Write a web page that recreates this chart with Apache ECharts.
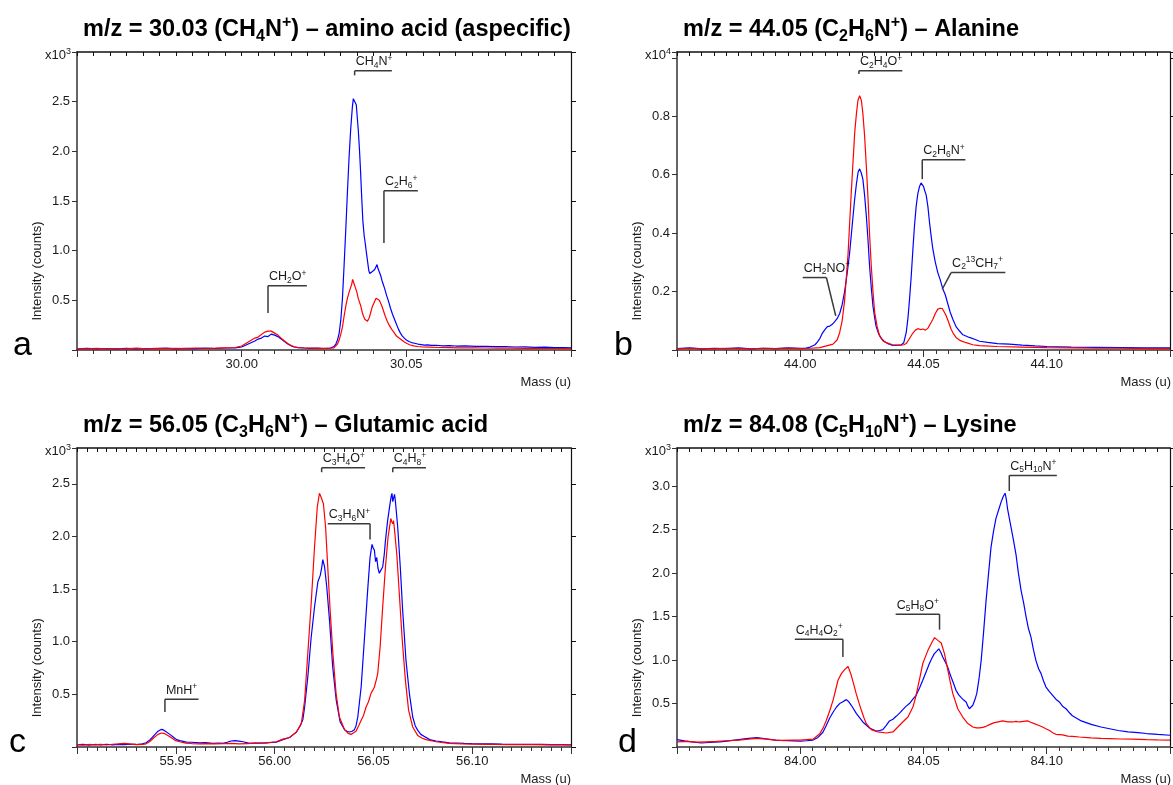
<!DOCTYPE html>
<html><head><meta charset="utf-8">
<script src="https://cdn.jsdelivr.net/npm/echarts@6/dist/echarts.min.js"></script>
<style>html,body{margin:0;padding:0;background:#fff}#c{width:1173px;height:785px}</style>
</head><body><div id="c"></div>
<script>
// ---------------- DATA ----------------
const xLabelsA = [30.00, 30.05];
const yLabelsA = [0.5, 1.0, 1.5, 2.0, 2.5];
const xLabelsB = [44.00, 44.05, 44.10];
const yLabelsB = [0.2, 0.4, 0.6, 0.8];
const xLabelsC = [55.95, 56.00, 56.05, 56.10];
const yLabelsC = [0.5, 1.0, 1.5, 2.0, 2.5];
const xLabelsD = [84.00, 84.05, 84.10];
const yLabelsD = [0.5, 1.0, 1.5, 2.0, 2.5, 3.0];

const aBlue = [[29.950,0.012],[29.953,0.016],[29.956,0.011],[29.959,0.015],[29.962,0.012],[29.965,0.017],[29.968,0.011],[29.971,0.015],[29.974,0.013],[29.977,0.018],[29.980,0.012],[29.983,0.016],[29.986,0.014],[29.989,0.019],[29.992,0.015],[29.995,0.02],[29.998,0.022],
[30.000,0.03],[30.001,0.045],[30.002,0.06],[30.003,0.075],[30.004,0.09],[30.005,0.11],[30.006,0.12],[30.007,0.14],[30.0075,0.125],[30.008,0.135],[30.0085,0.155],[30.009,0.16],[30.0095,0.145],[30.010,0.15],[30.011,0.135],[30.012,0.11],[30.013,0.085],[30.014,0.06],[30.015,0.042],[30.016,0.03],[30.017,0.024],[30.019,0.02],[30.021,0.017],[30.023,0.018],[30.025,0.015],[30.027,0.02],[30.028,0.035],
[30.0286,0.06],[30.0291,0.1],[30.0296,0.17],[30.0301,0.3],[30.0306,0.52],[30.0311,0.85],[30.0316,1.2],[30.0321,1.58],[30.0326,1.93],[30.0331,2.22],[30.0336,2.44],[30.0339,2.53],[30.0342,2.55],[30.0345,2.54],[30.0348,2.47],[30.0351,2.34],[30.0354,2.22],[30.0358,2.0],[30.0361,1.8],[30.0365,1.5],[30.0368,1.3],[30.0372,1.15],[30.0375,1.08],[30.0378,1.0],[30.0382,0.9],[30.0386,0.8],[30.0389,0.77],[30.0393,0.76],[30.0397,0.79],[30.0400,0.78],[30.0404,0.81],[30.0408,0.83],[30.0411,0.86],[30.0414,0.82],[30.0418,0.8],[30.0422,0.75],[30.0426,0.7],[30.0430,0.66],[30.0434,0.62],[30.0440,0.55],[30.0446,0.49],[30.0452,0.42],[30.0458,0.36],[30.0464,0.31],[30.0470,0.26],[30.0476,0.21],[30.0482,0.17],[30.0488,0.14],[30.0494,0.12],[30.0500,0.1],[30.0508,0.085],[30.0516,0.075],[30.0525,0.068],[30.0535,0.06],[30.0545,0.055],[30.0555,0.05],[30.0565,0.052],[30.0575,0.046],[30.059,0.048],[30.061,0.042],[30.063,0.045],[30.065,0.04],[30.068,0.041],[30.071,0.036],[30.074,0.037],[30.077,0.033],[30.080,0.034],[30.083,0.03],[30.086,0.031],[30.089,0.027],[30.092,0.028],[30.095,0.025],[30.098,0.024],[30.100,0.022]];

const aRed = [[29.950,0.014],[29.953,0.012],[29.956,0.017],[29.959,0.011],[29.962,0.015],[29.965,0.012],[29.968,0.018],[29.971,0.012],[29.974,0.016],[29.977,0.013],[29.980,0.017],[29.983,0.014],[29.986,0.02],[29.989,0.015],[29.992,0.018],[29.995,0.022],[29.998,0.025],
[30.000,0.04],[30.001,0.06],[30.002,0.08],[30.003,0.1],[30.004,0.12],[30.005,0.13],[30.006,0.155],[30.007,0.18],[30.0075,0.2],[30.008,0.19],[30.0085,0.175],[30.009,0.19],[30.0095,0.18],[30.010,0.17],[30.011,0.15],[30.012,0.12],[30.013,0.09],[30.014,0.065],[30.015,0.045],[30.016,0.032],[30.017,0.025],[30.019,0.02],[30.021,0.018],[30.023,0.016],[30.025,0.017],[30.027,0.018],[30.028,0.022],
[30.0286,0.03],[30.0291,0.06],[30.0296,0.1],[30.0301,0.16],[30.0306,0.23],[30.0311,0.34],[30.0316,0.44],[30.0321,0.52],[30.0326,0.58],[30.0331,0.63],[30.0334,0.66],[30.0337,0.71],[30.0340,0.68],[30.0343,0.66],[30.0346,0.62],[30.0350,0.58],[30.0354,0.52],[30.0358,0.48],[30.0362,0.44],[30.0366,0.38],[30.0370,0.34],[30.0374,0.31],[30.0378,0.3],[30.0382,0.29],[30.0385,0.3],[30.0388,0.33],[30.0392,0.38],[30.0396,0.43],[30.0400,0.46],[30.0404,0.49],[30.0408,0.52],[30.0411,0.53],[30.0414,0.51],[30.0418,0.5],[30.0422,0.48],[30.0426,0.44],[30.0430,0.4],[30.0436,0.34],[30.0442,0.29],[30.0448,0.25],[30.0455,0.21],[30.0462,0.18],[30.0470,0.14],[30.0478,0.12],[30.0486,0.1],[30.0494,0.08],[30.0502,0.065],[30.0512,0.05],[30.0522,0.042],[30.0535,0.035],[30.055,0.03],[30.057,0.028],[30.060,0.025],[30.063,0.024],[30.066,0.022],[30.070,0.021],[30.074,0.02],[30.078,0.019],[30.082,0.018],[30.086,0.017],[30.090,0.016],[30.095,0.015],[30.100,0.014]];

const bBlue = [[43.950,0.005],[43.955,0.007],[43.960,0.004],[43.965,0.006],[43.970,0.005],[43.975,0.007],[43.980,0.004],[43.985,0.006],[43.990,0.005],[43.995,0.007],[44.000,0.006],[44.002,0.006],[44.004,0.01],[44.006,0.018],[44.007,0.028],[44.008,0.04],[44.009,0.058],[44.010,0.07],[44.011,0.08],[44.012,0.082],[44.013,0.088],[44.014,0.097],[44.015,0.108],[44.016,0.125],[44.017,0.155],[44.018,0.2],[44.019,0.26],[44.020,0.33],[44.021,0.42],[44.022,0.51],[44.0228,0.57],[44.0235,0.61],[44.0241,0.62],[44.0248,0.605],[44.0254,0.585],[44.0261,0.53],[44.0268,0.46],[44.0275,0.375],[44.0281,0.29],[44.0288,0.215],[44.0295,0.15],[44.0302,0.11],[44.0308,0.08],[44.0318,0.055],[44.0329,0.04],[44.034,0.03],[44.0355,0.022],[44.037,0.017],[44.039,0.016],[44.041,0.018],[44.042,0.025],[44.043,0.06],[44.0437,0.11],[44.0443,0.17],[44.045,0.25],[44.0457,0.345],[44.0463,0.42],[44.047,0.49],[44.0477,0.535],[44.0484,0.56],[44.049,0.572],[44.0495,0.575],[44.050,0.56],[44.0505,0.545],[44.0511,0.53],[44.0518,0.49],[44.0524,0.44],[44.0531,0.39],[44.0538,0.345],[44.0548,0.3],[44.0558,0.265],[44.0568,0.24],[44.0578,0.21],[44.0588,0.19],[44.0598,0.16],[44.0608,0.13],[44.0619,0.105],[44.0632,0.08],[44.0646,0.065],[44.066,0.052],[44.0686,0.043],[44.071,0.036],[44.0727,0.03],[44.076,0.026],[44.08,0.022],[44.0848,0.02],[44.09,0.017],[44.0953,0.014],[44.10,0.012],[44.11,0.01],[44.12,0.009],[44.13,0.008],[44.14,0.007],[44.15,0.007]];

const bRed = [[43.950,0.004],[43.955,0.006],[43.960,0.005],[43.965,0.004],[43.970,0.006],[43.975,0.005],[43.980,0.004],[43.985,0.006],[43.990,0.005],[43.995,0.006],[44.000,0.005],[44.004,0.006],[44.008,0.008],[44.0106,0.014],[44.0133,0.02],[44.015,0.035],[44.016,0.06],[44.017,0.1],[44.018,0.17],[44.0194,0.33],[44.0207,0.54],[44.0221,0.745],[44.0228,0.81],[44.0234,0.854],[44.0241,0.87],[44.0248,0.854],[44.0254,0.81],[44.0261,0.734],[44.0268,0.63],[44.0275,0.517],[44.0281,0.4],[44.0288,0.29],[44.0295,0.2],[44.0302,0.128],[44.0312,0.08],[44.0322,0.048],[44.0335,0.032],[44.0349,0.025],[44.0375,0.018],[44.0403,0.016],[44.042,0.018],[44.043,0.022],[44.044,0.035],[44.0457,0.058],[44.0467,0.068],[44.0477,0.073],[44.0488,0.07],[44.0498,0.072],[44.0508,0.068],[44.0518,0.075],[44.0528,0.09],[44.0538,0.105],[44.0548,0.125],[44.0558,0.14],[44.0567,0.143],[44.0576,0.142],[44.0584,0.13],[44.0592,0.117],[44.0602,0.095],[44.0612,0.071],[44.0622,0.055],[44.0632,0.043],[44.065,0.032],[44.0673,0.025],[44.07,0.018],[44.0727,0.015],[44.08,0.012],[44.09,0.01],[44.10,0.008],[44.11,0.007],[44.12,0.006],[44.13,0.006],[44.14,0.005],[44.15,0.005]];

const cBlue = [[55.900,0.02],[55.903,0.025],[55.906,0.018],[55.909,0.024],[55.912,0.02],[55.915,0.026],[55.918,0.021],[55.921,0.025],[55.924,0.022],[55.927,0.027],[55.930,0.024],[55.933,0.03],[55.935,0.04],[55.937,0.07],[55.939,0.11],[55.941,0.15],[55.9428,0.168],[55.944,0.16],[55.945,0.165],[55.947,0.12],[55.949,0.09],[55.9504,0.07],[55.952,0.06],[55.9554,0.047],[55.958,0.045],[55.9621,0.04],[55.965,0.042],[55.9688,0.035],[55.972,0.038],[55.9739,0.035],[55.976,0.045],[55.978,0.057],[55.980,0.06],[55.982,0.055],[55.984,0.05],[55.9874,0.035],[55.990,0.037],[55.993,0.036],[55.9958,0.04],[55.9985,0.043],[56.0009,0.046],[56.0042,0.07],[56.0076,0.09],[56.0092,0.115],[56.011,0.14],[56.0126,0.19],[56.0143,0.26],[56.0152,0.38],[56.0168,0.665],[56.0185,1.04],[56.0202,1.33],[56.0219,1.57],[56.0231,1.63],[56.0238,1.7],[56.0244,1.78],[56.0253,1.71],[56.0264,1.52],[56.0278,1.2],[56.0294,0.76],[56.0312,0.443],[56.0332,0.237],[56.0354,0.165],[56.0366,0.15],[56.0379,0.142],[56.0392,0.15],[56.0404,0.165],[56.0412,0.2],[56.0421,0.285],[56.0438,0.57],[56.0455,1.04],[56.0471,1.49],[56.0483,1.8],[56.0493,1.925],[56.0499,1.89],[56.0505,1.87],[56.0511,1.76],[56.0517,1.8],[56.0523,1.7],[56.053,1.65],[56.0538,1.68],[56.0547,1.71],[56.0555,1.83],[56.0561,1.96],[56.0572,2.15],[56.0584,2.31],[56.059,2.38],[56.0594,2.41],[56.0598,2.33],[56.0603,2.37],[56.0607,2.4],[56.0611,2.34],[56.0623,2.09],[56.0636,1.71],[56.0648,1.3],[56.0665,0.82],[56.0682,0.51],[56.0699,0.285],[56.0712,0.2],[56.0724,0.16],[56.0740,0.12],[56.0758,0.1],[56.0785,0.07],[56.0817,0.057],[56.085,0.048],[56.0884,0.04],[56.092,0.038],[56.096,0.034],[56.10,0.032],[56.105,0.03],[56.11,0.029],[56.115,0.027],[56.12,0.026],[56.125,0.026],[56.13,0.024],[56.135,0.025],[56.14,0.023],[56.145,0.022],[56.15,0.021]];

const cRed = [[55.900,0.022],[55.903,0.018],[55.906,0.024],[55.909,0.02],[55.912,0.025],[55.915,0.019],[55.918,0.026],[55.921,0.03],[55.924,0.035],[55.927,0.028],[55.930,0.022],[55.933,0.025],[55.935,0.03],[55.937,0.055],[55.939,0.09],[55.941,0.12],[55.9428,0.133],[55.944,0.13],[55.946,0.11],[55.948,0.085],[55.950,0.06],[55.952,0.05],[55.955,0.037],[55.958,0.033],[55.962,0.03],[55.966,0.032],[55.970,0.029],[55.974,0.031],[55.978,0.034],[55.982,0.03],[55.986,0.033],[55.990,0.036],[55.9958,0.04],[56.0009,0.05],[56.0042,0.075],[56.0076,0.09],[56.0109,0.14],[56.0135,0.22],[56.0152,0.443],[56.0168,0.887],[56.0185,1.36],[56.0202,1.9],[56.0216,2.28],[56.0227,2.41],[56.0236,2.37],[56.0247,2.31],[56.0258,2.09],[56.0269,1.71],[56.0281,1.3],[56.0295,0.887],[56.0311,0.51],[56.0328,0.285],[56.0354,0.165],[56.0372,0.13],[56.0387,0.12],[56.04,0.135],[56.0412,0.15],[56.0425,0.2],[56.0438,0.253],[56.0450,0.3],[56.0463,0.38],[56.0475,0.43],[56.0488,0.51],[56.0497,0.54],[56.0505,0.57],[56.0515,0.64],[56.0522,0.7],[56.0534,0.95],[56.0547,1.33],[56.0561,1.71],[56.0574,1.99],[56.0588,2.17],[56.0593,2.14],[56.0598,2.12],[56.0602,2.15],[56.0606,2.08],[56.0618,1.84],[56.0631,1.46],[56.0645,1.04],[56.0662,0.633],[56.0678,0.35],[56.0699,0.19],[56.0724,0.11],[56.0745,0.085],[56.0766,0.07],[56.0817,0.05],[56.0884,0.035],[56.095,0.03],[56.10,0.028],[56.11,0.025],[56.12,0.023],[56.13,0.022],[56.14,0.021],[56.15,0.02]];

const dBlue = [[83.950,0.085],[83.953,0.07],[83.956,0.06],[83.9599,0.046],[83.963,0.052],[83.9674,0.06],[83.971,0.07],[83.975,0.085],[83.979,0.1],[83.9825,0.108],[83.986,0.095],[83.99,0.08],[83.9917,0.077],[83.9976,0.07],[84.0,0.066],[84.0026,0.072],[84.0052,0.08],[84.0072,0.11],[84.0092,0.17],[84.0106,0.25],[84.0119,0.33],[84.0133,0.4],[84.0147,0.46],[84.016,0.5],[84.0173,0.52],[84.0187,0.545],[84.0197,0.52],[84.0207,0.48],[84.0228,0.384],[84.0254,0.288],[84.0281,0.219],[84.0308,0.184],[84.0322,0.19],[84.0335,0.2],[84.0349,0.25],[84.0362,0.3],[84.0376,0.32],[84.0389,0.353],[84.0403,0.39],[84.0416,0.43],[84.043,0.47],[84.0443,0.5],[84.0457,0.55],[84.047,0.595],[84.0484,0.68],[84.0497,0.767],[84.051,0.86],[84.0524,0.96],[84.0534,1.02],[84.0544,1.074],[84.0553,1.1],[84.0562,1.13],[84.057,1.09],[84.0578,1.035],[84.0588,0.98],[84.0598,0.92],[84.0605,0.86],[84.0612,0.805],[84.0622,0.73],[84.0632,0.652],[84.0643,0.6],[84.0653,0.568],[84.0663,0.54],[84.0673,0.518],[84.068,0.47],[84.0686,0.44],[84.0693,0.46],[84.07,0.48],[84.0708,0.54],[84.0716,0.614],[84.0725,0.78],[84.0734,0.997],[84.0744,1.33],[84.0754,1.69],[84.0764,2.0],[84.0774,2.3],[84.0784,2.48],[84.0794,2.63],[84.0805,2.73],[84.0815,2.82],[84.0823,2.88],[84.0831,2.92],[84.0836,2.85],[84.0841,2.74],[84.0848,2.72],[84.0855,2.53],[84.0865,2.38],[84.0875,2.22],[84.0885,2.0],[84.0896,1.8],[84.0906,1.66],[84.0916,1.5],[84.0926,1.36],[84.0936,1.265],[84.0946,1.12],[84.0956,0.997],[84.0967,0.9],[84.0977,0.844],[84.0987,0.76],[84.0997,0.69],[84.101,0.64],[84.1024,0.595],[84.1037,0.55],[84.1051,0.518],[84.1064,0.47],[84.1078,0.44],[84.109,0.4],[84.1104,0.36],[84.114,0.3],[84.118,0.26],[84.122,0.23],[84.1255,0.21],[84.129,0.19],[84.133,0.175],[84.137,0.165],[84.1405,0.155],[84.145,0.145],[84.15,0.135]];

const dRed = [[83.950,0.06],[83.954,0.065],[83.958,0.055],[83.962,0.06],[83.966,0.065],[83.970,0.072],[83.975,0.08],[83.979,0.09],[83.9825,0.1],[83.986,0.09],[83.99,0.08],[83.9917,0.077],[83.9976,0.08],[84.0,0.078],[84.0026,0.085],[84.0052,0.09],[84.0079,0.153],[84.0093,0.22],[84.0106,0.307],[84.012,0.42],[84.0133,0.537],[84.0143,0.65],[84.0153,0.767],[84.0167,0.844],[84.018,0.89],[84.0187,0.9],[84.0194,0.928],[84.02,0.88],[84.0207,0.825],[84.0217,0.72],[84.0227,0.614],[84.0238,0.51],[84.0248,0.422],[84.0258,0.34],[84.0268,0.269],[84.0288,0.2],[84.0315,0.173],[84.0349,0.161],[84.0376,0.173],[84.0396,0.23],[84.0416,0.288],[84.0437,0.345],[84.0457,0.46],[84.0467,0.56],[84.0477,0.69],[84.0487,0.82],[84.0497,0.96],[84.0508,1.04],[84.0518,1.112],[84.0535,1.208],[84.0545,1.258],[84.0552,1.24],[84.0558,1.227],[84.0565,1.21],[84.0572,1.196],[84.0585,1.074],[84.0599,0.882],[84.0609,0.74],[84.0619,0.614],[84.0639,0.44],[84.0659,0.345],[84.068,0.269],[84.07,0.23],[84.0714,0.22],[84.0727,0.219],[84.074,0.225],[84.0754,0.238],[84.077,0.26],[84.0787,0.28],[84.0804,0.29],[84.0821,0.3],[84.0842,0.29],[84.0862,0.288],[84.0875,0.295],[84.0889,0.288],[84.0905,0.295],[84.0922,0.3],[84.0935,0.285],[84.0949,0.269],[84.0966,0.25],[84.0983,0.23],[84.0996,0.21],[84.101,0.192],[84.1024,0.165],[84.1037,0.146],[84.1064,0.14],[84.1085,0.125],[84.1105,0.123],[84.1132,0.115],[84.118,0.105],[84.122,0.1],[84.1255,0.097],[84.13,0.092],[84.135,0.09],[84.1405,0.085],[84.145,0.082],[84.15,0.08]];

// annotations: label, line x1, line x2, line y, stem from x (on the line), stem to x, stem to y
const annLabelsA = ['CH_4N^+', 'C_2H_6^+', 'CH_2O^+'];
const annA = [[30.0343,30.0456,2.81,30.0343,30.0343,2.765],[30.0432,30.0535,1.604,30.0432,30.0432,1.077],[30.0080,30.0198,0.647,30.0080,30.0080,0.372]];
const annLabelsB = ['C_2H_4O^+', 'C_2H_6N^+', 'CH_2NO^+', 'C_2^{13}CH_7^+'];
const annB = [[44.0238,44.0414,0.956,44.0238,44.0238,0.945],[44.0495,44.0670,0.651,44.0495,44.0495,0.585],[44.0010,44.0106,0.248,44.0106,44.0144,0.117],[44.0612,44.0832,0.265,44.0612,44.0576,0.208]];
const annLabelsC = ['MnH^+', 'C_3H_4O^+', 'C_4H_8^+', 'C_3H_6N^+'];
const annC = [[55.9445,55.9615,0.453,55.9445,55.9445,0.332],[56.0238,56.0458,2.652,56.0238,56.0238,2.61],[56.0598,56.0766,2.652,56.0598,56.0598,2.61],[56.0269,56.0483,2.12,56.0483,56.0483,1.97]];
const annLabelsD = ['C_4H_4O_2^+', 'C_5H_8O^+', 'C_5H_{10}N^+'];
const annD = [[83.9978,84.0173,1.239,84.0173,84.0173,1.035],[84.0387,84.0565,1.527,84.0565,84.0565,1.35],[84.0848,84.1041,3.125,84.0848,84.0848,2.945]];

const titles = ['m/z = 30.03 (CH_4N^+) – amino acid (aspecific)', 'm/z = 44.05 (C_2H_6N^+) – Alanine', 'm/z = 56.05 (C_3H_6N^+) – Glutamic acid', 'm/z = 84.08 (C_5H_{10}N^+) – Lysine'];
const letters = ['a', 'b', 'c', 'd'];
const exponents = ['3', '4', '3', '3'];

// ---------------- LAYOUT ----------------
const FONT = "'Liberation Sans', Arial, Helvetica, sans-serif";
const panels = [
  {grid:{left:77, top:52, width:494, height:298}, xMin:29.95, xMax:30.10, yMax:3.0, yInt:0.5, xL:xLabelsA, yL:yLabelsA, blue:aBlue, red:aRed, ann:annA, annL:annLabelsA, letterX:13},
  {grid:{left:677, top:52, width:494, height:298}, xMin:43.95, xMax:44.15, yMax:1.02, yInt:0.2, xL:xLabelsB, yL:yLabelsB, blue:bBlue, red:bRed, ann:annB, annL:annLabelsB, letterX:614},
  {grid:{left:77, top:448, width:494, height:299}, xMin:55.90, xMax:56.15, yMax:2.84, yInt:0.5, xL:xLabelsC, yL:yLabelsC, blue:cBlue, red:cRed, ann:annC, annL:annLabelsC, letterX:9},
  {grid:{left:677, top:448, width:494, height:299}, xMin:83.95, xMax:84.15, yMax:3.44, yInt:0.5, xL:xLabelsD, yL:yLabelsD, blue:dBlue, red:dRed, ann:annD, annL:annLabelsD, letterX:618}
];

function toRich(s, pre) {
  let out = '', buf = '', i = 0;
  const flush = () => { if (buf) { out += '{' + pre + 'n|' + buf + '}'; buf = ''; } };
  while (i < s.length) {
    const c = s[i];
    if (c === '_' || c === '^') {
      flush(); i++;
      let t;
      if (s[i] === '{') { const j = s.indexOf('}', i); t = s.slice(i + 1, j); i = j + 1; }
      else { t = s[i]; i++; }
      out += '{' + pre + (c === '_' ? 'sb' : 'sp') + '|' + t + '}';
    } else { buf += c; i++; }
  }
  flush();
  return out;
}

const TXT = '#1a1a1a';
const annRich = {
  an: {fontSize:12.5, fontFamily:FONT, fill:TXT, lineHeight:16},
  asb: {fontSize:8.5, fontFamily:FONT, fill:TXT, lineHeight:10, verticalAlign:'bottom'},
  asp: {fontSize:8.5, fontFamily:FONT, fill:TXT, lineHeight:10, verticalAlign:'top'}
};
const titleRich = {
  tn: {fontSize:23.5, fontWeight:'bold', fontFamily:FONT, fill:'#000', lineHeight:30},
  tsb: {fontSize:16, fontWeight:'bold', fontFamily:FONT, fill:'#000', lineHeight:19, verticalAlign:'bottom'},
  tsp: {fontSize:16, fontWeight:'bold', fontFamily:FONT, fill:'#000', lineHeight:19, verticalAlign:'top'}
};
const expRich = {
  xn: {fontSize:13, fontFamily:FONT, fill:TXT, lineHeight:16},
  xsp: {fontSize:9, fontFamily:FONT, fill:TXT, lineHeight:10, verticalAlign:'top'}
};

function inList(list, v) { return list.some(t => Math.abs(t - v) < 1e-7); }

const grids = [], xAxes = [], yAxes = [], series = [], graphics = [];
const AX = '#333';
panels.forEach((p, i) => {
  grids.push(p.grid);
  const xl = p.xL, yl = p.yL;
  xAxes.push({
    type:'value', gridIndex:i, min:p.xMin, max:p.xMax, interval:0.05, position:'bottom',
    axisLine:{show:true, onZero:false, lineStyle:{color:AX, width:1.5}},
    axisTick:{show:true, length:7, lineStyle:{color:AX, width:1}},
    minorTick:{show:true, splitNumber:10, length:4, lineStyle:{color:AX, width:1}},
    axisLabel:{show:true, margin:8, fontSize:13, fontFamily:FONT, color:TXT, showMinLabel:true, showMaxLabel:true,
      formatter: v => inList(xl, v) ? v.toFixed(2) : ''},
    splitLine:{show:false}, minorSplitLine:{show:false}
  });
  xAxes.push({
    type:'value', gridIndex:i, min:p.xMin, max:p.xMax, interval:0.005, position:'top',
    axisLine:{show:true, onZero:false, lineStyle:{color:'#111', width:1.5}},
    axisTick:{show:true, inside:true, length:4, lineStyle:{color:'#111', width:1}},
    axisLabel:{show:false}, splitLine:{show:false}
  });
  yAxes.push({
    type:'value', gridIndex:i, min:0, max:p.yMax, interval:p.yInt, position:'left',
    axisLine:{show:true, onZero:false, lineStyle:{color:AX, width:1.5}},
    axisTick:{show:true, length:5, lineStyle:{color:AX, width:1}},
    axisLabel:{show:true, margin:7, fontSize:13, fontFamily:FONT, color:TXT,
      formatter: v => inList(yl, v) ? v.toFixed(1) : ''},
    splitLine:{show:false}
  });
  yAxes.push({
    type:'value', gridIndex:i, min:0, max:p.yMax, interval:p.yInt, position:'right',
    axisLine:{show:true, onZero:false, lineStyle:{color:'#111', width:1.2}},
    axisTick:{show:true, length:5, lineStyle:{color:'#111', width:1}},
    axisLabel:{show:false}, splitLine:{show:false}
  });
  series.push({type:'line', xAxisIndex:2*i, yAxisIndex:2*i, data:p.blue, showSymbol:false, symbol:'none',
    lineStyle:{color:'#0000ff', width:1.2}, itemStyle:{color:'#0000ff'}, z:3, silent:true});
  series.push({type:'line', xAxisIndex:2*i, yAxisIndex:2*i, data:p.red, showSymbol:false, symbol:'none',
    lineStyle:{color:'#ff0000', width:1.2}, itemStyle:{color:'#ff0000'}, z:3, silent:true});
  const labels = p.annL;
  series.push({
    type:'custom', xAxisIndex:2*i, yAxisIndex:2*i, data:p.ann, silent:true, clip:false, z:5,
    encode:{x:[0,1,3,4], y:[2,5]},
    renderItem: (params, api) => {
      const x1 = api.value(0), x2 = api.value(1), y = api.value(2), sx0 = api.value(3), sx1 = api.value(4), sy1 = api.value(5);
      const p1 = api.coord([x1, y]), p2 = api.coord([x2, y]);
      const s0 = api.coord([sx0, y]), s1 = api.coord([sx1, sy1]);
      return {type:'group', children:[
        {type:'line', shape:{x1:p1[0], y1:p1[1], x2:p2[0], y2:p2[1]}, style:{stroke:'#3a3a3a', lineWidth:1.5}},
        {type:'line', shape:{x1:s0[0], y1:s0[1], x2:s1[0], y2:s1[1]}, style:{stroke:'#3a3a3a', lineWidth:1.5}},
        {type:'text', x:p1[0] + 1, y:p1[1] - 1, style:{text:toRich(labels[params.dataIndex], 'a'), rich:annRich,
          fontSize:12.5, fontFamily:FONT, fill:TXT, align:'left', verticalAlign:'bottom'}}
      ]};
    }
  });

  const g = p.grid;
  const gx2 = g.left + g.width, gy2 = g.top + g.height;
  graphics.push({type:'text', x:g.left + 6, y:g.top - 22, style:{text:toRich(titles[i], 't'), rich:titleRich,
    fontSize:23.5, fontWeight:'bold', fontFamily:FONT, fill:'#000', align:'left', verticalAlign:'middle'}});
  graphics.push({type:'text', x:g.left - 6, y:g.top + 3, style:{text:toRich('x10^' + exponents[i], 'x'), rich:expRich,
    fontSize:13, fontFamily:FONT, fill:TXT, align:'right', verticalAlign:'middle'}});
  graphics.push({type:'text', x:gx2, y:gy2 + 32, style:{text:'Mass (u)', fontSize:13, fontFamily:FONT, fill:TXT, align:'right', verticalAlign:'middle'}});
  graphics.push({type:'text', x:g.left - 40, y:g.top + 0.735 * g.height, rotation:Math.PI / 2,
    style:{text:'Intensity (counts)', fontSize:13, fontFamily:FONT, fill:TXT, align:'center', verticalAlign:'middle'}});
  graphics.push({type:'text', x:p.letterX, y:gy2 - 4, style:{text:letters[i], fontSize:34, fontFamily:FONT, fill:'#000', align:'left', verticalAlign:'middle'}});
});

const chart = echarts.init(document.getElementById('c'), null, {renderer:'canvas'});
chart.setOption({
  animation:false, backgroundColor:'#fff',
  grid:grids, xAxis:xAxes, yAxis:yAxes, series:series,
  graphic:{elements:graphics}
});
</script></body></html>
